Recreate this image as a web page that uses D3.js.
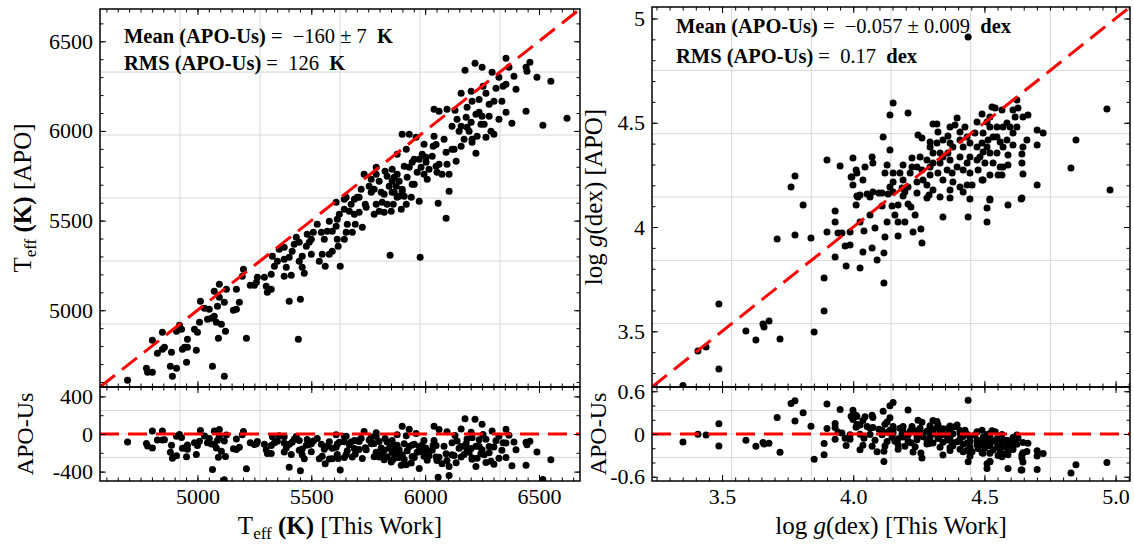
<!DOCTYPE html>
<html>
<head>
<meta charset="utf-8">
<script src="https://cdn.jsdelivr.net/npm/d3@7"></script>
<style>
  body { margin: 0; background: #fff; }
  text { font-family: "Liberation Serif", "Times New Roman", serif; fill: #000; }
  .note { white-space: pre; }
</style>
</head>
<body>
<svg id="chart" width="1134" height="547"></svg>
<script>
// ---- data: one entry per star, [This Work] vs [APO] ----
var teffUs = [
  4693,4776,4781,4802,4802,4824,4846,4846,4855,4886,
  4881,4890,4908,4908,4921,4930,4934,4943,4956,4952,
  4956,4987,5000,4995,5009,5013,5031,5052,5044,5061,
  5066,5074,5096,5074,5083,5088,5096,5118,5092,5105,
  5118,5123,5127,5158,5171,5171,5184,5215,5202,5197,
  5232,5250,5259,5263,5302,5307,5324,5324,5338,5329,
  5359,5381,5381,5390,5381,5403,5412,5416,5434,5443,
  5452,5447,5460,5460,5469,5478,5491,5500,5509,5535,
  5548,5561,5544,5557,5570,5579,5592,5592,5609,5614,
  5614,5618,5627,5609,5645,5653,5658,5645,5667,5680,
  5693,5724,5675,5702,5710,5741,5763,5785,5798,5820,
  5811,5851,5864,5877,5895,5908,5917,5899,5846,5974,
  5978,6057,6092,6105,6175,6219,6250,6294,6355,6368,
  6390,6443,6447,6460,6491,6552,6158,6202,6206,6254,
  6267,6311,6324,6342,6355,6399,6302,6337,6355,6443,
  6381,6517,6623,6039,6061,6096,6131,6118,6140,6158,
  6180,6184,6193,6202,6223,6237,6250,6245,6228,6281,
  6267,6289,6302,6206,6206,6223,5899,5930,5960,6039,
  6035,6048,6031,6092,6118,6158,6136,6096,5877,5917,
  5987,6004,5855,5877,5908,5930,5943,5965,5982,6004,
  5995,6048,6052,6074,5974,5785,5732,5785,5798,5833,
  5754,5776,5807,5842,5855,5873,5886,5899,5943,5855,
  5886,5653,5710,5763,5824,5864,5921,5952,6009,5820,
  5719,5689,5737,5833,5939,5860,5776,5623,5579,5526,
  5482,5425,5403,5351,5294,5447,5500,5645,5689,6061,
  6127,6171,6184,6237,6281,6259,6324,6149,6083,5995,
  6017,6105,5952
];
var teffApo = [
  4609,4676,4654,4654,4833,4760,4877,4782,4794,4766,
  4688,4632,4676,4883,4916,4894,4782,4794,4794,4710,
  4838,4894,4877,4777,4933,5050,5011,5005,4950,4955,
  4688,5106,5145,4966,4933,5022,5072,5044,4844,4922,
  4632,4883,5117,5000,5005,5117,5044,4844,5229,5190,
  5139,5139,5156,5184,5134,5100,5117,5201,5245,5301,
  5340,5351,5284,5240,5190,5050,5195,5329,5407,4838,
  5061,5379,5301,5240,5206,5357,5379,5396,5435,5273,
  5312,5245,5435,5396,5440,5312,5329,5440,5468,5507,
  5396,5357,5245,5602,5619,5435,5479,5563,5552,5435,
  5479,5463,5591,5630,5546,5574,5658,5591,5552,5546,
  5602,5552,5658,5630,5563,5636,5591,5675,5307,5608,
  5295,5597,5513,5663,6338,6377,6355,6327,6405,6355,
  6305,6355,6333,6383,6299,6277,6210,6221,6165,6249,
  6210,6238,6299,6249,6260,6232,6165,6165,6104,6110,
  6043,6032,6071,6121,6110,6121,6115,6026,6065,6026,
  6076,6020,5998,6048,6093,6104,6082,6037,5970,6082,
  5965,5998,5981,5954,5937,5876,5981,5981,5965,5970,
  5914,5925,5859,5881,5898,5914,5831,5814,5870,5898,
  5870,5853,5786,5758,5803,5797,5825,5770,5797,5825,
  5758,5803,5770,5758,5842,5797,5758,5758,5719,5747,
  5691,5675,5658,5691,5719,5691,5719,5663,5703,5658,
  5636,5630,5630,5730,5775,5742,5742,5703,5730,5647,
  5675,5619,5591,5591,5630,5591,5535,5535,5496,5479,
  5424,5368,5295,5273,5184,5273,5312,5396,5535,5814,
  5898,5954,6132,6176,6149,6037,6065,5998,5954,5926,
  5786,5758,5842
];
var loggUs = [
  3.351,3.408,3.439,3.488,3.488,3.591,3.629,3.656,3.660,3.679,
  3.721,3.710,3.778,3.809,3.839,3.851,3.889,3.889,3.900,3.931,
  3.931,3.942,3.931,3.973,3.969,3.988,3.957,4.011,4.014,4.026,
  4.053,3.988,4.041,4.037,4.072,4.091,4.117,4.117,4.121,4.129,
  4.110,4.098,4.133,4.148,4.171,4.171,4.171,4.209,4.220,4.190,
  4.197,4.228,4.258,4.262,4.281,4.289,4.331,4.342,4.369,4.438,
  4.510,4.510,4.521,4.590,4.640,4.979,4.438,4.152,4.140,4.209,
  4.114,4.140,4.967,4.849,4.830,4.701,4.724,4.701,4.701,4.647,
  4.643,4.643,4.647,4.643,4.624,4.628,4.609,4.617,4.647,4.666,
  4.586,4.598,4.609,4.590,4.590,4.567,4.529,4.541,4.567,4.491,
  4.510,4.521,4.548,4.571,4.533,4.560,4.514,4.491,4.464,4.472,
  4.495,4.521,4.548,4.571,4.502,4.533,4.560,4.472,4.445,4.419,
  4.434,4.407,4.380,4.361,4.369,4.396,4.419,4.445,4.476,4.495,
  4.521,4.552,4.377,4.358,4.331,4.323,4.342,4.380,4.407,4.434,
  4.453,4.491,4.445,4.521,4.396,4.388,4.369,4.361,4.323,4.304,
  4.319,4.293,4.319,4.293,4.304,4.331,4.247,4.262,4.281,4.255,
  4.224,4.190,4.224,4.178,4.152,4.121,4.217,4.262,4.293,4.266,
  4.243,4.281,4.209,4.186,4.152,4.110,4.075,4.064,4.026,4.037,
  4.014,3.995,3.999,4.072,4.075,4.045,4.129,3.900,3.950,4.011,
  3.992,3.999,3.763,3.778,4.018,4.342,4.426,4.445,4.407,4.483,
  4.510,4.548,4.586,4.571,4.434,4.304,4.243,4.190,4.152,4.293,
  4.342,4.369,4.407,4.472,4.521,4.495,4.609,4.624,4.662,4.419,
  4.369,4.304,4.243,4.140,4.064,4.026,4.083,4.159,4.197,4.236
];
var loggApo = [
  3.240,3.406,3.425,3.631,3.319,3.502,3.458,3.535,3.521,3.549,
  3.463,3.943,3.962,4.106,3.947,3.497,3.756,3.597,3.976,4.077,
  4.024,3.971,3.856,3.813,3.909,3.914,3.971,4.106,4.149,3.804,
  4.158,3.976,3.981,3.880,3.900,3.842,3.732,3.876,3.952,4.024,
  4.101,4.163,4.158,4.101,4.106,4.024,3.957,4.110,4.096,4.149,
  4.168,3.976,3.991,3.924,4.139,4.154,4.144,4.048,4.139,4.048,
  4.091,4.024,4.130,4.106,4.134,4.178,4.911,4.595,4.537,4.547,
  4.432,4.369,4.566,4.417,4.283,4.465,4.451,4.393,4.202,4.384,
  4.350,4.307,4.254,4.139,4.609,4.571,4.561,4.528,4.528,4.537,
  4.499,4.480,4.393,4.345,4.297,4.249,4.576,4.571,4.561,4.542,
  4.504,4.480,4.480,4.480,4.432,4.408,4.417,4.403,4.451,4.384,
  4.360,4.355,4.355,4.384,4.307,4.307,4.288,4.321,4.336,4.384,
  4.432,4.417,4.384,4.355,4.321,4.288,4.274,4.259,4.274,4.226,
  4.250,4.250,4.259,4.274,4.307,4.259,4.226,4.216,4.192,4.202,
  4.202,4.226,4.134,4.134,4.523,4.489,4.480,4.437,4.456,4.494,
  4.494,4.408,4.403,4.384,4.355,4.355,4.441,4.427,4.321,4.336,
  4.331,4.297,4.288,4.259,4.259,4.259,4.259,4.274,4.250,4.226,
  4.216,4.202,4.192,4.187,4.168,4.163,4.168,4.144,4.154,4.226,
  4.259,4.240,4.331,4.336,4.307,4.288,4.297,4.321,4.293,4.274,
  4.240,4.202,4.192,4.245,4.144,4.417,4.480,4.403,4.336,4.336,
  4.384,4.432,4.417,4.288,4.307,4.307,4.288,4.226,4.216,4.288,
  4.336,4.403,4.456,4.504,4.528,4.451,4.451,4.480,4.417,4.168,
  4.178,4.178,4.163,4.192,4.058,4.024,3.995,4.058,4.024,4.058
];

// tick labels
var teffTicks = [5000, 5500, 6000, 6500];
var teffResTicks = [400, 0, -400];
var loggXTicks = [3.5, 4.0, 4.5, 5.0];
var loggYTicks = [3.5, 4, 4.5, 5];
var loggResTicks = [0.6, 0, -0.6];

var svg = d3.select('#chart');

function drawPair(o) {
  var x = d3.scaleLinear().domain(o.xDomain).range([o.left, o.right]);
  var y = d3.scaleLinear().domain(o.xDomain).range([o.mid, o.top]);
  var r = d3.scaleLinear().domain(o.rDomain).range([o.bottom, o.mid]);
  var w = o.right - o.left;

  var stars = o.us.map(function(u, i) { return { us: u, apo: o.apo[i], res: o.apo[i] - u }; });

  var g = svg.append('g');
  var clipTop = o.id + '-top', clipBot = o.id + '-bot';
  var defs = g.append('defs');
  defs.append('clipPath').attr('id', clipTop).append('rect')
    .attr('x', o.left).attr('y', o.top).attr('width', w).attr('height', o.mid - o.top);
  defs.append('clipPath').attr('id', clipBot).append('rect')
    .attr('x', o.left).attr('y', o.mid).attr('width', w).attr('height', o.bottom - o.mid);

  // grid (fractions of the frame, as in the original figure)
  var grid = g.append('g').attr('stroke', '#d6d6d6').attr('stroke-width', 1);
  [1, 2, 3, 4, 5].forEach(function(k) {
    var gxp = o.left + w * k / 6;
    grid.append('line').attr('x1', gxp).attr('x2', gxp).attr('y1', o.top).attr('y2', o.bottom);
    var gyp = o.top + (o.mid - o.top) * k / 6;
    grid.append('line').attr('x1', o.left).attr('x2', o.right).attr('y1', gyp).attr('y2', gyp);
  });
  [1, 2, 3].forEach(function(k) {
    var gyp = o.mid + (o.bottom - o.mid) * k / 4;
    grid.append('line').attr('x1', o.left).attr('x2', o.right).attr('y1', gyp).attr('y2', gyp);
  });

  // points
  g.append('g').attr('clip-path', 'url(#' + clipTop + ')')
    .selectAll('circle').data(stars).join('circle')
    .attr('cx', function(d) { return x(d.us); })
    .attr('cy', function(d) { return y(d.apo); })
    .attr('r', 3.5).attr('fill', '#000');
  g.append('g').attr('clip-path', 'url(#' + clipBot + ')')
    .selectAll('circle').data(stars).join('circle')
    .attr('cx', function(d) { return x(d.us); })
    .attr('cy', function(d) { return r(d.res); })
    .attr('r', 3.5).attr('fill', '#000');

  // one-to-one and zero lines
  var line = d3.line().x(function(d) { return x(d[0]); });
  g.append('path').attr('clip-path', 'url(#' + clipTop + ')')
    .attr('d', line.y(function(d) { return y(d[1]); })(o.xDomain.map(function(v) { return [v, v]; })))
    .attr('stroke', '#ff0000').attr('stroke-width', 3).attr('stroke-dasharray', '19,9').attr('fill', 'none');
  g.append('path').attr('clip-path', 'url(#' + clipBot + ')')
    .attr('d', line.y(function(d) { return r(d[1]); })(o.xDomain.map(function(v) { return [v, 0]; })))
    .attr('stroke', '#ff0000').attr('stroke-width', 3).attr('stroke-dasharray', '19,9').attr('fill', 'none');

  // ticks on all sides, pointing in
  function ax(axis, tx, ty, vals, size, fmt) {
    var a = g.append('g').attr('transform', 'translate(' + tx + ',' + ty + ')')
      .call(axis.tickValues(vals).tickSize(-size).tickPadding(7).tickFormat(fmt || ''));
    a.select('.domain').remove();
    a.selectAll('line').attr('stroke', '#000').attr('stroke-width', 1);
    a.selectAll('text').attr('font-family', '"Liberation Serif", serif').attr('font-size', 22);
    return a;
  }
  function sides(sx, sy, top, bot, xMaj, xMin, yMaj, yMin, xFmt, yFmt) {
    ax(d3.axisBottom(sx), 0, bot, xMin, 3.5);
    ax(d3.axisBottom(sx), 0, bot, xMaj, 6, xFmt);
    ax(d3.axisTop(sx), 0, top, xMin, 3.5);
    ax(d3.axisTop(sx), 0, top, xMaj, 6);
    ax(d3.axisLeft(sy), o.left, 0, yMin, 3.5);
    ax(d3.axisLeft(sy), o.left, 0, yMaj, 6, yFmt);
    ax(d3.axisRight(sy), o.right, 0, yMin, 3.5);
    ax(d3.axisRight(sy), o.right, 0, yMaj, 6);
  }
  sides(x, y, o.top, o.mid, o.xTicks, o.xMinor, o.yTicks, o.yMinor, null, o.yFmt);
  sides(x, r, o.mid, o.bottom, o.xTicks, o.xMinor, o.rTicks, o.rMinor, o.xFmt, o.rFmt);

  // frames
  [[o.top, o.mid], [o.mid, o.bottom]].forEach(function(p) {
    g.append('rect').attr('x', o.left).attr('y', p[0]).attr('width', w).attr('height', p[1] - p[0])
      .attr('fill', 'none').attr('stroke', '#000').attr('stroke-width', 1.5);
  });

  // axis labels
  o.xLabel(g.append('text').attr('x', (o.left + o.right) / 2).attr('y', 534)
    .attr('text-anchor', 'middle').attr('font-size', 25));
  o.yLabel(g.append('text').attr('transform', 'translate(' + o.yLabelX + ',' + ((o.top + o.mid) / 2) + ') rotate(-90)')
    .attr('text-anchor', 'middle').attr('font-size', 25));
  g.append('text').attr('transform', 'translate(' + o.rLabelX + ',' + ((o.mid + o.bottom) / 2) + ') rotate(-90)')
    .attr('text-anchor', 'middle').attr('font-size', 24).text('APO-Us');

  // stats box
  o.notes.forEach(function(n) {
    var t = g.append('text').attr('class', 'note').attr('x', o.left + 24).attr('y', n.y).attr('font-size', 20.5);
    n.parts.forEach(function(p) {
      t.append('tspan').attr('font-weight', p[1] ? 'bold' : 'normal').text(p[0]);
    });
  });
}

function teffLabel(t, tail) {
  t.append('tspan').text('T');
  t.append('tspan').attr('font-size', 17).attr('dy', 5).text('eff');
  t.append('tspan').attr('dy', -5).text(' ');
  t.append('tspan').attr('font-weight', 'bold').text('(K)');
  t.append('tspan').text(tail);
}
function loggLabel(t, tail) {
  t.append('tspan').text('log ');
  t.append('tspan').attr('font-style', 'italic').text('g');
  t.append('tspan').text('(dex)' + tail);
}

drawPair({
  id: 'teff', left: 100, right: 580, top: 9, mid: 387, bottom: 481,
  xDomain: [4572, 6680], rDomain: [-500, 500],
  us: teffUs, apo: teffApo,
  xTicks: teffTicks, xMinor: d3.range(4600, 6700, 50),
  yTicks: teffTicks, yMinor: d3.range(4600, 6700, 100),
  rTicks: teffResTicks, rMinor: d3.range(-400, 401, 200),
  xFmt: d3.format('d'), yFmt: d3.format('d'), rFmt: function(v) { return String(v); },
  xLabel: function(t) { teffLabel(t, ' [This Work]'); },
  yLabel: function(t) { teffLabel(t, ' [APO]'); },
  yLabelX: 31, rLabelX: 33,
  notes: [
    { y: 43, parts: [['Mean (APO-Us) ', 1], ['=  \u2212160 \u00b1 7  ', 0], ['K', 1]] },
    { y: 70, parts: [['RMS (APO-Us) ', 1], ['=  126  ', 0], ['K', 1]] }
  ]
});

drawPair({
  id: 'logg', left: 652, right: 1130, top: 7, mid: 387, bottom: 481,
  xDomain: [3.233, 5.055], rDomain: [-0.66, 0.66],
  us: loggUs, apo: loggApo,
  xTicks: loggXTicks, xMinor: d3.range(3.25, 5.06, 0.05),
  yTicks: loggYTicks, yMinor: d3.range(3.3, 5.06, 0.1),
  rTicks: loggResTicks, rMinor: d3.range(-0.6, 0.61, 0.2),
  xFmt: d3.format('.1f'), yFmt: function(v) { return String(v); }, rFmt: function(v) { return String(v); },
  xLabel: function(t) { loggLabel(t, ' [This Work]'); },
  yLabel: function(t) { loggLabel(t, ' [APO]'); },
  yLabelX: 602, rLabelX: 606,
  notes: [
    { y: 33, parts: [['Mean (APO-Us) ', 1], ['=  \u22120.057 \u00b1 0.009  ', 0], ['dex', 1]] },
    { y: 63, parts: [['RMS (APO-Us) ', 1], ['=  0.17  ', 0], ['dex', 1]] }
  ]
});
</script>
</body>
</html>
